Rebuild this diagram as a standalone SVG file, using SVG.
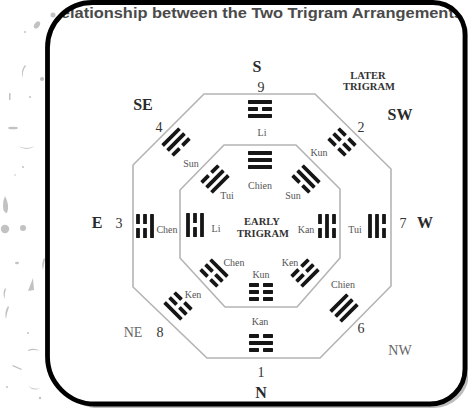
<svg xmlns="http://www.w3.org/2000/svg" width="468" height="408" viewBox="0 0 468 408">
  <defs>
    <style>
      .frame{fill:none;stroke:#000;stroke-width:4.8}
      .shadow{fill:#bdbdbd}
      .oct{fill:none;stroke:#b4b4b4;stroke-width:1.6}
      .bar{fill:#161616}
      .splat{fill:#c2c2c2}
      .title{font-family:"Liberation Sans",Arial,sans-serif;font-weight:bold;font-size:14.5px;fill:#4a4a4a}
      .dir{font-family:"Liberation Serif","Times New Roman",serif;font-weight:bold;font-size:16px;fill:#2a2a2a;text-anchor:middle}
      .dir2{font-family:"Liberation Serif","Times New Roman",serif;font-size:14px;fill:#666;text-anchor:middle}
      .num{font-family:"Liberation Serif","Times New Roman",serif;font-size:14px;fill:#333;text-anchor:middle}
      .lbl{font-family:"Liberation Serif","Times New Roman",serif;font-size:10px;fill:#555;text-anchor:middle}
      .cap{font-family:"Liberation Serif","Times New Roman",serif;font-weight:bold;font-size:10.5px;fill:#333;text-anchor:middle}
    </style>
    <path id="frameShape" d="M92.5,2.5 H433 A32,32 0 0 1 465,34.5 V369 A35,35 0 0 1 430,404 H95 A47.5,47.5 0 0 1 47.5,356.5 V47.5 A45,45 0 0 1 92.5,2.5 Z"/>
    <clipPath id="frameClip"><path d="M92.5,2.5 H433 A32,32 0 0 1 465,34.5 V369 A35,35 0 0 1 430,404 H95 A47.5,47.5 0 0 1 47.5,356.5 V47.5 A45,45 0 0 1 92.5,2.5 Z"/></clipPath>
    <!-- single lines: solid (yang) and broken (yin) -->
    <g id="yang"><rect class="bar" x="-12" y="-1.9" width="24" height="3.8" rx="0.6"/></g>
    <g id="yin"><rect class="bar" x="-12" y="-1.9" width="10" height="3.8" rx="0.6"/><rect class="bar" x="2" y="-1.9" width="10" height="3.8" rx="0.6"/></g>
    <!-- trigrams, top line at y=-7, bottom line at y=+7 (bottom faces the centre) -->
    <g id="t-chien"><use href="#yang" y="-7"/><use href="#yang"/><use href="#yang" y="7"/></g>
    <g id="t-kun"><use href="#yin" y="-7"/><use href="#yin"/><use href="#yin" y="7"/></g>
    <g id="t-chen"><use href="#yin" y="-7"/><use href="#yin"/><use href="#yang" y="7"/></g>
    <g id="t-kan"><use href="#yin" y="-7"/><use href="#yang"/><use href="#yin" y="7"/></g>
    <g id="t-ken"><use href="#yang" y="-7"/><use href="#yin"/><use href="#yin" y="7"/></g>
    <g id="t-sun"><use href="#yang" y="-7"/><use href="#yang"/><use href="#yin" y="7"/></g>
    <g id="t-li"><use href="#yang" y="-7"/><use href="#yin"/><use href="#yang" y="7"/></g>
    <g id="t-tui"><use href="#yin" y="-7"/><use href="#yang"/><use href="#yang" y="7"/></g>
  </defs>

  <rect width="468" height="408" fill="#fff"/>

  <!-- ink splatter in the left margin -->
  <g id="splatter">
    <circle class="splat" cx="53" cy="15" r="2.5"/>
    <ellipse class="splat" cx="37" cy="25" rx="2.5" ry="4" transform="rotate(35 37 25)"/>
    <circle class="splat" cx="25" cy="32" r="1"/>
    <path class="splat" d="M25,65 Q20,71 23,78 Q22,71 26,66 Z"/>
    <circle class="splat" cx="42" cy="79" r="2"/>
    <rect class="splat" x="9" y="93" width="1.5" height="7"/>
    <circle class="splat" cx="30" cy="97" r="1"/>
    <ellipse class="splat" cx="13" cy="128" rx="5" ry="1.3"/>
    <path class="splat" d="M18,146 Q27,152 35,146 Q27,150 18,146 Z"/>
    <circle class="splat" cx="23" cy="167" r="1"/>
    <circle class="splat" cx="15" cy="175" r="0.8"/>
    <path class="splat" d="M5,196 Q10,205 7,213 Q3,213 3,206 Q3,200 5,196 Z"/>
    <circle class="splat" cx="5" cy="229" r="4.2"/>
    <circle class="splat" cx="23" cy="228" r="3"/>
    <ellipse class="splat" cx="17" cy="263" rx="2" ry="1.2"/>
    <path class="splat" d="M44,258 Q41,264 43,270 Q44,264 45,259 Z"/>
    <path class="splat" d="M33,278 L28,291 L34,290 Z"/>
    <path class="splat" d="M5,288 Q2,294 5,299 Q4,294 6,289 Z"/>
    <path class="splat" d="M8,306 Q4,312 6,319 Q7,312 9,307 Z"/>
    <circle class="splat" cx="28" cy="333" r="1"/>
    <path class="splat" d="M28,350 Q34,347 40,351 Q34,349 28,351 Z"/>
    <path class="splat" d="M13,365 L22,369 L21,370 L12,366 Z"/>
    <path class="splat" d="M28,386 Q34,392 40,388 Q34,390 28,386 Z"/>
    <circle class="splat" cx="7" cy="387" r="1"/>
    <circle class="splat" cx="40" cy="398" r="1.2"/>
  </g>

  <!-- frame with drop shadow -->
  <use href="#frameShape" class="shadow" transform="translate(4,4)"/>
  <use href="#frameShape" style="fill:#fff;stroke:none"/>

  <g id="title" clip-path="url(#frameClip)">
    <text class="title" x="49" y="17.5" textLength="414" lengthAdjust="spacingAndGlyphs">Relationship between the Two Trigram Arrangements</text>
  </g>

  <use href="#frameShape" class="frame"/>

  <!-- octagon rings -->
  <g id="rings">
    <polygon class="oct" points="204,94 315,94 391,169 391,286 320,358 207,358 133,287 133,165"/>
    <polygon class="oct" points="224,145 296,145 340,189 340,258 297,307 225,307 180,258 180,190"/>
  </g>

  <!-- compass points and numbers -->
  <g id="compass">
    <text class="dir" x="257" y="72">S</text>
    <text class="num" x="261" y="92">9</text>
    <text class="dir" x="143" y="110">SE</text>
    <text class="num" x="159" y="132">4</text>
    <text class="num" x="361" y="132">2</text>
    <text class="dir" x="400" y="120">SW</text>
    <text class="dir" x="97" y="228">E</text>
    <text class="num" x="119" y="228">3</text>
    <text class="num" x="403" y="228">7</text>
    <text class="dir" x="425" y="228">W</text>
    <text class="dir2" x="133" y="337">NE</text>
    <text class="num" x="160" y="337">8</text>
    <text class="num" x="361" y="333">6</text>
    <text class="dir2" x="400" y="355">NW</text>
    <text class="num" x="261" y="377">1</text>
    <text class="dir" x="261" y="398">N</text>
  </g>

  <g id="later-title">
    <text class="cap" x="368" y="79">LATER</text>
    <text class="cap" x="369" y="90">TRIGRAM</text>
  </g>
  <g id="early-title">
    <text class="cap" x="262" y="225">EARLY</text>
    <text class="cap" x="263" y="237">TRIGRAM</text>
  </g>

  <!-- later (outer) arrangement -->
  <g id="later">
    <g id="later-li"><use href="#t-li" transform="translate(260,109)"/><text class="lbl" x="262" y="136">Li</text></g>
    <g id="later-kun"><use href="#t-kun" transform="translate(342,142) rotate(45)"/><text class="lbl" x="319" y="156">Kun</text></g>
    <g id="later-tui"><use href="#t-tui" transform="translate(377,226) rotate(90)"/><text class="lbl" x="355" y="233">Tui</text></g>
    <g id="later-chien"><use href="#t-chien" transform="translate(344,308) rotate(135)"/><text class="lbl" x="343" y="288">Chien</text></g>
    <g id="later-kan"><use href="#t-kan" transform="translate(261,343) rotate(180)"/><text class="lbl" x="260" y="325">Kan</text></g>
    <g id="later-ken"><use href="#t-ken" transform="translate(178,306) rotate(225)"/><text class="lbl" x="193" y="298">Ken</text></g>
    <g id="later-chen"><use href="#t-chen" transform="translate(145,226) rotate(270)"/><text class="lbl" x="167" y="233">Chen</text></g>
    <g id="later-sun"><use href="#t-sun" transform="translate(176,142) rotate(315)"/><text class="lbl" x="191" y="167">Sun</text></g>
  </g>

  <!-- early (inner) arrangement -->
  <g id="early">
    <g id="early-chien"><use href="#t-chien" transform="translate(260,160)"/><text class="lbl" x="260" y="189">Chien</text></g>
    <g id="early-sun"><use href="#t-sun" transform="translate(306,179) rotate(45)"/><text class="lbl" x="293" y="199">Sun</text></g>
    <g id="early-kan"><use href="#t-kan" transform="translate(327,226) rotate(90)"/><text class="lbl" x="306" y="233">Kan</text></g>
    <g id="early-ken"><use href="#t-ken" transform="translate(305,273) rotate(135)"/><text class="lbl" x="290" y="266">Ken</text></g>
    <g id="early-kun"><use href="#t-kun" transform="translate(261,292) rotate(180)"/><text class="lbl" x="261" y="278">Kun</text></g>
    <g id="early-chen"><use href="#t-chen" transform="translate(214,273) rotate(225)"/><text class="lbl" x="234" y="266">Chen</text></g>
    <g id="early-li"><use href="#t-li" transform="translate(195,225) rotate(270)"/><text class="lbl" x="216" y="232">Li</text></g>
    <g id="early-tui"><use href="#t-tui" transform="translate(215,179) rotate(315)"/><text class="lbl" x="227" y="199">Tui</text></g>
  </g>
</svg>
